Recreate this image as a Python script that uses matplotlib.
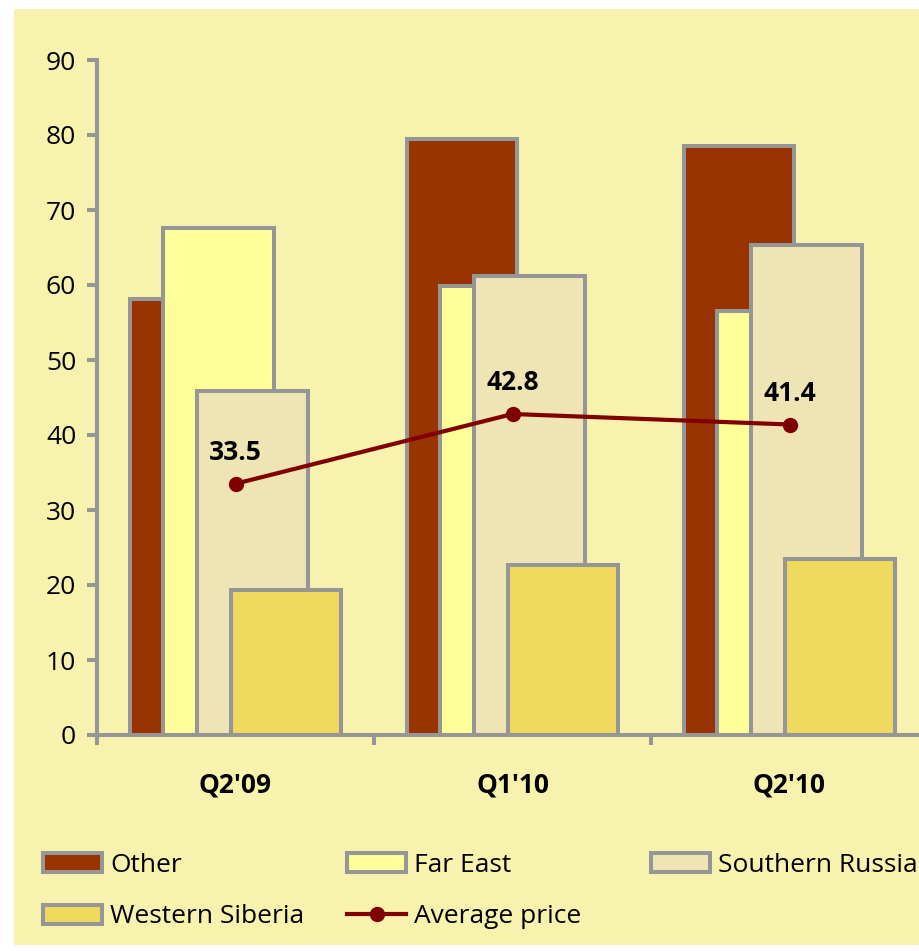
import matplotlib
matplotlib.use("Agg")
import matplotlib.pyplot as plt
from matplotlib.patches import Rectangle, Patch
from matplotlib.lines import Line2D
import numpy as np

plt.rcParams['font.family'] = ['Open Sans', 'DejaVu Sans']

categories = ["Q2'09", "Q1'10", "Q2'10"]
series_names = ["Other", "Far East", "Southern Russia", "Western Siberia"]
other = [58.1, 79.5, 78.6]
far_east = [67.6, 59.9, 56.5]
southern_russia = [45.9, 61.2, 65.3]
western_siberia = [19.3, 22.7, 23.5]
avg_price = [33.5, 42.8, 41.4]
avg_name = "Average price"
yticks = [0, 10, 20, 30, 40, 50, 60, 70, 80, 90]

colors = ["#993300", "#FFFF99", "#EFE4B4", "#EFD95E"]
edge = "#969696"
line_color = "#800000"
bg = "#F7F2AE"
FS = 19

W, H = 919, 951
fig = plt.figure(figsize=(W / 100, H / 100), dpi=100, facecolor="white")
fig.patches.append(Rectangle((14 / W, 6 / H), 1 - 14 / W, 1 - 15 / H,
                             transform=fig.transFigure, facecolor=bg,
                             edgecolor="none", zorder=-10))

ax = fig.add_axes([97 / W, (H - 735) / H, 831 / W, 675 / H])
ax.set_facecolor("none")

x = np.arange(len(categories))
width = 0.40
step = 0.1217
all_series = [other, far_east, southern_russia, western_siberia]
for i, (vals, name, c) in enumerate(zip(all_series, series_names, colors)):
    off = (i - 1.5) * step
    ax.bar(x + off, vals, width=width, color=c, edgecolor=edge,
           linewidth=2.9, zorder=2 + i, label=name)

ax.plot(x, avg_price, color=line_color, lw=3, marker='o', ms=10,
        zorder=10, label=avg_name)
for xi, v in zip(x, avg_price):
    ax.annotate(f"{v}", (xi, v), xytext=(0, 22.5), textcoords="offset points",
                ha="center", va="center", fontsize=FS, fontweight="bold",
                color="black", zorder=11)

ax.set_xlim(-0.5, 2.5)
ax.set_ylim(0, 90)
ax.set_yticks(yticks)
ax.set_xticks(np.arange(-0.5, 3.0, 1.0))
ax.set_xticklabels([])
ax.set_xticks(x, minor=True)
ax.set_xticklabels(categories, minor=True, fontsize=FS, fontweight="bold")
ax.tick_params(axis="x", which="minor", length=0, pad=26)
ax.tick_params(axis="x", which="major", length=7, width=2.9, color=edge, direction="out")
ax.tick_params(axis="y", length=7, width=2.9, color=edge, direction="out",
               labelsize=FS, pad=8)
for s in ["top", "right"]:
    ax.spines[s].set_visible(False)
for s in ["left", "bottom"]:
    ax.spines[s].set_color(edge)
    ax.spines[s].set_linewidth(2.9)
    ax.spines[s].set_zorder(20)

handles = [Patch(facecolor=c, edgecolor=edge, linewidth=2.9) for c in colors]
line_h = Line2D([], [], color=line_color, lw=3, marker='o', ms=10)
cols = [
    ([handles[0], handles[3]], [series_names[0], series_names[3]], 43),
    ([handles[1], line_h], [series_names[1], avg_name], 347),
    ([handles[2]], [series_names[2]], 651),
]
for hs, labs, px in cols:
    leg = fig.legend(hs, labs, loc="upper left",
                     bbox_to_anchor=(px / W, (H - 853) / H),
                     frameon=False, fontsize=FS, handlelength=2.25,
                     handleheight=0.75, handletextpad=0.3,
                     labelspacing=1.0, borderpad=0, borderaxespad=0)

fig.savefig("out.png", dpi=100, facecolor="white")
